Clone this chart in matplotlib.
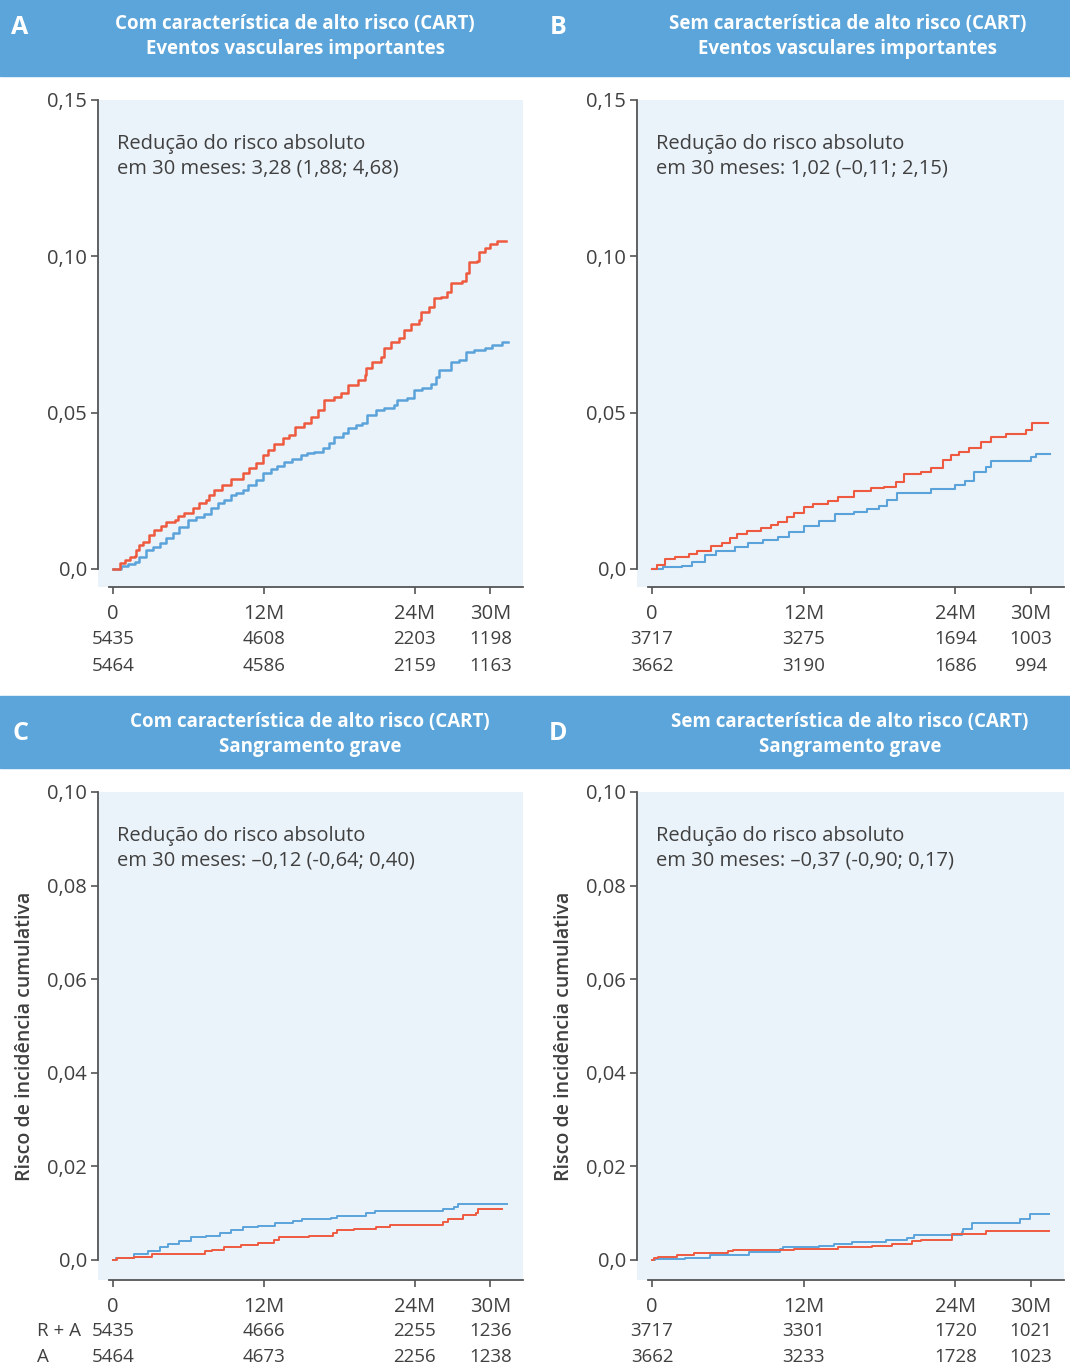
import matplotlib
matplotlib.use("Agg")
import matplotlib.pyplot as plt
import matplotlib.transforms as mtransforms
from matplotlib.patches import Rectangle

plt.rcParams['font.family'] = ['Open Sans', 'DejaVu Sans']

# colours
RED = "#EE5A3F"
BLUE = "#5AA3DA"
BAND = "#5BA5DA"
PANEL_BG = "#EBF3FA"
TXT = "#404040"
SPINE = "#555555"

# x ticks (months) shared by all panels
xtick_pos = [0, 12, 24, 30]
xtick_lab = ["0", "12M", "24M", "30M"]

# panel A - with high risk feature, major vascular events
a_red_t = [0, 0.53, 0.93, 1.32, 1.72, 1.85, 2.1, 2.38, 2.9, 3.3, 3.83, 4.22, 4.9, 5.15,
           5.68, 6.34, 6.87, 7.4, 7.66, 8.05, 8.7, 9.38, 10.3, 10.83, 11.36, 11.9, 12.3,
           12.8, 13.5, 14.0, 14.5, 15.2, 15.75, 16.27, 16.8, 17.6, 18.1, 18.65, 19.45,
           20.0, 20.1, 20.6, 21.3, 21.55, 22.1, 22.74, 23.14, 23.67, 24.33, 24.46, 25.1,
           25.5, 26.05, 26.57, 26.84, 27.76, 28.03, 28.29, 28.95, 29.08, 29.6, 30.0,
           30.53, 31.27]
a_red_v = [0, 0.0018, 0.0029, 0.0039, 0.0042, 0.0061, 0.0077, 0.0087, 0.0109, 0.0125,
           0.0138, 0.0151, 0.0157, 0.017, 0.018, 0.0194, 0.021, 0.0221, 0.0237, 0.0253,
           0.0269, 0.0287, 0.0306, 0.0322, 0.0338, 0.0365, 0.0381, 0.04, 0.0418, 0.0429,
           0.0455, 0.0468, 0.0487, 0.0509, 0.054, 0.0551, 0.0562, 0.0589, 0.0605, 0.0621,
           0.0642, 0.0663, 0.0679, 0.0706, 0.0725, 0.0738, 0.0765, 0.0783, 0.0797,
           0.0823, 0.0839, 0.0866, 0.0871, 0.0887, 0.0914, 0.0921, 0.0946, 0.0983,
           0.0985, 0.1015, 0.1026, 0.1039, 0.1049, 0.1049]
a_blue_t = [0, 0.66, 1.19, 1.72, 2.1, 2.64, 3.17, 3.7, 4.22, 4.75, 5.28, 5.94, 6.6, 7.27,
            7.79, 8.32, 8.85, 9.38, 9.77, 10.3, 10.7, 11.36, 11.9, 12.54, 13.07, 13.6,
            14.26, 14.92, 15.45, 16.0, 16.67, 17.2, 17.6, 18.25, 18.65, 19.3, 19.83,
            20.23, 20.9, 21.55, 22.35, 22.6, 23.4, 23.93, 24.6, 25.25, 25.65, 25.9,
            26.84, 27.5, 28.03, 28.7, 29.6, 30.13, 30.93, 31.38]
a_blue_v = [0, 0.001, 0.0016, 0.0023, 0.0039, 0.0061, 0.0071, 0.0084, 0.0098, 0.0114,
            0.0135, 0.0157, 0.0167, 0.0176, 0.0194, 0.021, 0.0221, 0.0237, 0.0244,
            0.0253, 0.0269, 0.0285, 0.0306, 0.0319, 0.033, 0.0343, 0.0351, 0.0365,
            0.0371, 0.0375, 0.0386, 0.0402, 0.0423, 0.0434, 0.0452, 0.0461, 0.0466,
            0.0493, 0.0509, 0.0516, 0.0525, 0.0541, 0.0548, 0.0573, 0.058, 0.0591,
            0.0615, 0.0637, 0.0663, 0.0669, 0.0695, 0.07, 0.0708, 0.0717, 0.0727, 0.0727]

# panel B - without high risk feature, major vascular events
b_red_t = [0, 0.37, 1.03, 1.8, 2.9, 3.55, 4.7, 5.5, 6.2, 6.7, 7.5, 8.6, 9.4, 10.0, 10.7,
           11.2, 12.0, 12.7, 13.9, 14.7, 16.0, 17.3, 18.35, 19.3, 19.95, 21.3, 22.1,
           23.0, 23.65, 24.3, 25.1, 26.0, 26.8, 28.0, 29.6, 30.1, 31.3]
b_red_v = [0, 0.0013, 0.0031, 0.0037, 0.0048, 0.0059, 0.0074, 0.0084, 0.0098, 0.0111,
           0.0122, 0.0132, 0.0141, 0.0151, 0.0165, 0.018, 0.0197, 0.0208, 0.0218,
           0.0231, 0.025, 0.0258, 0.0263, 0.0279, 0.0304, 0.0311, 0.0322, 0.0349,
           0.0365, 0.0375, 0.0386, 0.0407, 0.0421, 0.0431, 0.0445, 0.0466, 0.0466]
b_blue_t = [0, 0.9, 2.35, 3.15, 4.2, 5.1, 6.6, 7.6, 8.8, 10.0, 10.8, 12.0, 13.2, 14.5,
            16.0, 17.0, 17.95, 18.6, 19.4, 22.1, 24.0, 24.8, 25.5, 26.4, 26.8, 30.0,
            30.4, 31.5]
b_blue_v = [0, 0.0005, 0.0011, 0.0023, 0.0045, 0.0059, 0.0071, 0.0084, 0.0093, 0.0103,
            0.0119, 0.0138, 0.0154, 0.0175, 0.0181, 0.0192, 0.0202, 0.0221, 0.0244,
            0.0255, 0.0269, 0.0282, 0.0311, 0.0327, 0.0346, 0.0357, 0.0368, 0.0368]

# panel C - with high risk feature, major bleeding
c_red_t = [0, 0.33, 1.7, 3.1, 7.3, 7.85, 8.8, 10.2, 11.5, 12.8, 13.2, 15.6, 17.5, 17.8,
           19.2, 20.95, 22.05, 26.2, 26.6, 27.8, 28.9, 29.0, 30.9]
c_red_v = [0, 0.0005, 0.0007, 0.0013, 0.002, 0.0022, 0.0027, 0.0031, 0.0037, 0.0042,
           0.0048, 0.0052, 0.0057, 0.0063, 0.0066, 0.007, 0.0074, 0.0082, 0.0088,
           0.0095, 0.0100, 0.0108, 0.0108]
c_blue_t = [0, 0.27, 1.7, 2.8, 3.7, 4.4, 5.25, 6.2, 7.4, 8.5, 9.35, 10.3, 11.5, 12.9,
            14.3, 15.0, 17.3, 17.8, 20.1, 20.8, 26.2, 27.1, 27.4, 31.35]
c_blue_v = [0, 0.0005, 0.0013, 0.002, 0.0027, 0.0035, 0.004, 0.0048, 0.0052, 0.0057,
            0.0064, 0.007, 0.0073, 0.0078, 0.0083, 0.0087, 0.009, 0.0094, 0.0101,
            0.0104, 0.0108, 0.0113, 0.0120, 0.0120]

# panel D - without high risk feature, major bleeding
d_red_t = [0, 0.15, 0.5, 2.0, 3.3, 6.0, 6.4, 11.2, 14.7, 17.4, 19.0, 20.6, 21.3, 23.7,
           26.4, 31.4]
d_red_v = [0, 0.0004, 0.0007, 0.0011, 0.0014, 0.0018, 0.0021, 0.0023, 0.0027, 0.003,
           0.0034, 0.004, 0.0043, 0.0056, 0.0061, 0.0061]
d_blue_t = [0, 0.2, 2.6, 4.6, 7.7, 10.1, 10.4, 13.2, 14.4, 15.8, 18.5, 20.2, 20.75,
            24.5, 24.6, 25.3, 29.1, 29.9, 31.4]
d_blue_v = [0, 0.0001, 0.0004, 0.001, 0.0016, 0.0023, 0.0027, 0.003, 0.0034, 0.0038,
            0.0043, 0.0046, 0.0053, 0.0059, 0.0066, 0.0079, 0.0087, 0.0097, 0.0097]

# numbers at risk (R + A row, A row)
a_risk = [[5435, 4608, 2203, 1198], [5464, 4586, 2159, 1163]]
b_risk = [[3717, 3275, 1694, 1003], [3662, 3190, 1686, 994]]
c_risk = [[5435, 4666, 2255, 1236], [5464, 4673, 2256, 1238]]
d_risk = [[3717, 3301, 1720, 1021], [3662, 3233, 1728, 1023]]
risk_rows = ["R + A", "A"]

# titles and annotations
title_top = ["Com característica de alto risco (CART)", "Sem característica de alto risco (CART)"]
title_sub = ["Eventos vasculares importantes", "Sangramento grave"]
arr_text = {
    "A": "Redução do risco absoluto\nem 30 meses: 3,28 (1,88; 4,68)",
    "B": "Redução do risco absoluto\nem 30 meses: 1,02 (\u20130,11; 2,15)",
    "C": "Redução do risco absoluto\nem 30 meses: \u20130,12 (-0,64; 0,40)",
    "D": "Redução do risco absoluto\nem 30 meses: \u20130,37 (-0,90; 0,17)",
}
ylab = "Risco de incidência cumulativa"

top_yticks = [0, 0.05, 0.10, 0.15]
top_ylabels = ["0,0", "0,05", "0,10", "0,15"]
bot_yticks = [0, 0.02, 0.04, 0.06, 0.08, 0.10]
bot_ylabels = ["0,0", "0,02", "0,04", "0,06", "0,08", "0,10"]

W, H = 1070, 1368
fig = plt.figure(figsize=(W / 100, H / 100), dpi=100)


def px_box(x0, y0, x1, y1):
    return [x0 / W, 1 - y1 / H, (x1 - x0) / W, (y1 - y0) / H]


def draw_panel(box, red_t, red_v, blue_t, blue_v, yticks, ylabels, ylim, risk,
               ann, lw, risk_y, row_names=False, show_ylabel=False):
    ax = fig.add_axes(px_box(*box))
    ax.set_facecolor(PANEL_BG)
    ax.step(blue_t, blue_v, where="post", color=BLUE, lw=lw, zorder=3)
    ax.step(red_t, red_v, where="post", color=RED, lw=lw, zorder=3)
    ax.set_xlim(-1.19, 32.6)
    ax.set_ylim(*ylim)
    ax.set_yticks(yticks)
    ax.set_yticklabels(ylabels)
    ax.set_xticks(xtick_pos)
    ax.set_xticklabels(xtick_lab)
    for s in ["top", "right"]:
        ax.spines[s].set_visible(False)
    for s in ["left", "bottom"]:
        ax.spines[s].set_color(SPINE)
        ax.spines[s].set_linewidth(1.3)
    ax.spines["left"].set_bounds(0, yticks[-1])
    ax.spines["bottom"].set_bounds(-0.3, ax.get_xlim()[1])
    ax.tick_params(axis="both", direction="out", length=5, width=1.2, color=SPINE,
                   labelcolor=TXT, labelsize=14.5)
    ax.tick_params(axis="x", pad=7)
    ax.tick_params(axis="y", pad=3)
    # two-line annotation, first line centred 44 px under the panel top
    ax_h = box[3] - box[1]
    for i, line in enumerate(ann.split("\n")):
        yy = 1 - (44 + 24.5 * i) / ax_h
        ax.text(0.045, yy, line, transform=ax.transAxes, fontsize=14.5, color=TXT,
                va="center", ha="left")
    tr = mtransforms.blended_transform_factory(ax.transData, fig.transFigure)
    for row, yy in zip(risk, risk_y):
        for xv, n in zip(xtick_pos, row):
            ax.text(xv, 1 - yy / H, str(n), transform=tr, ha="center", va="center",
                    fontsize=13.5, color=TXT)
    if row_names:
        for name, yy in zip(risk_rows, risk_y):
            fig.text(37 / W, 1 - yy / H, name, ha="left", va="center", fontsize=13.5,
                     color=TXT)
    if show_ylabel:
        fig.text((box[0] - 73) / W, 1 - (box[1] + box[3]) / 2 / H, ylab,
                 rotation=90, ha="center", va="center", fontsize=14,
                 fontweight="semibold", color=TXT)
    return ax


# header bands
for y0, y1 in [(0, 76), (696, 768)]:
    fig.patches.append(Rectangle((0, 1 - y1 / H), 1, (y1 - y0) / H,
                                 transform=fig.transFigure, color=BAND, zorder=0))

headers = [("A", 20, 28, 295, 24, 49, 0, 0), ("B", 558, 28, 848, 24, 49, 1, 0),
           ("C", 20, 733, 310, 722, 747, 0, 1), ("D", 558, 733, 850, 722, 747, 1, 1)]
for letter, lx, ly, tx, ty1, ty2, ti, si in headers:
    fig.text(lx / W, 1 - ly / H, letter, color="white", fontsize=18,
             fontweight="bold", ha="center", va="center")
    fig.text(tx / W, 1 - ty1 / H, title_top[ti], color="white", fontsize=13.5,
             fontweight="bold", ha="center", va="center")
    fig.text(tx / W, 1 - ty2 / H, title_sub[si], color="white", fontsize=13.5,
             fontweight="bold", ha="center", va="center")

top_ylim = (-0.00576, 0.15)
bot_ylim = (-0.0043, 0.10)

draw_panel((98, 100, 523, 587), a_red_t, a_red_v, a_blue_t, a_blue_v, top_yticks,
           top_ylabels, top_ylim, a_risk, arr_text["A"], 1.8, [639, 666])
draw_panel((637, 100, 1064, 587), b_red_t, b_red_v, b_blue_t, b_blue_v, top_yticks,
           top_ylabels, top_ylim, b_risk, arr_text["B"], 1.5, [639, 666])
draw_panel((98, 792, 523, 1280), c_red_t, c_red_v, c_blue_t, c_blue_v, bot_yticks,
           bot_ylabels, bot_ylim, c_risk, arr_text["C"], 1.4, [1331, 1357],
           row_names=True, show_ylabel=True)
draw_panel((637, 792, 1064, 1280), d_red_t, d_red_v, d_blue_t, d_blue_v, bot_yticks,
           bot_ylabels, bot_ylim, d_risk, arr_text["D"], 1.4, [1331, 1357],
           show_ylabel=True)

fig.savefig("out.png", dpi=100, facecolor="white")
